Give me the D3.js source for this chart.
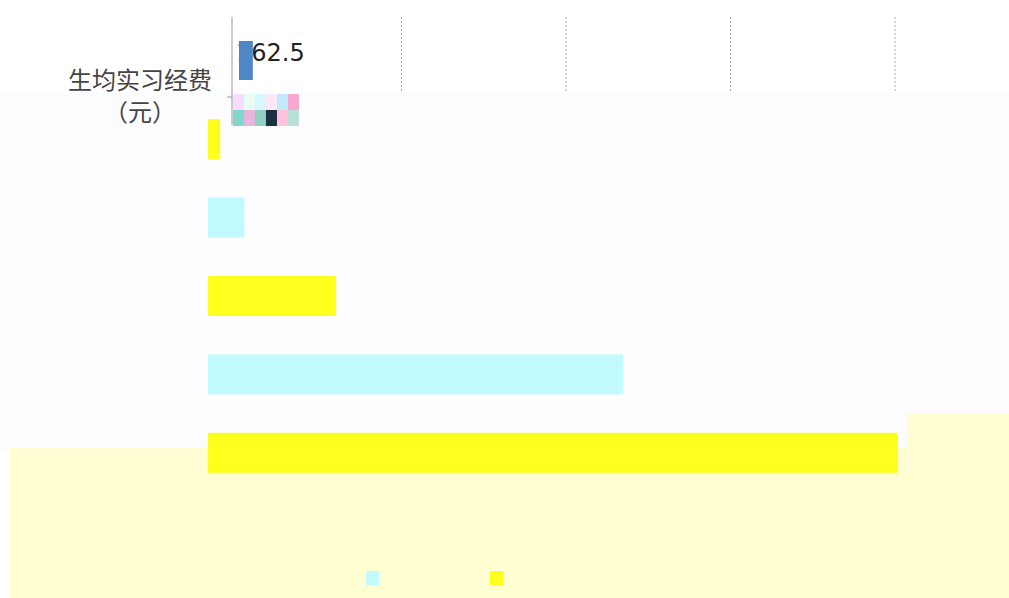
<!DOCTYPE html>
<html>

<head>
  <title>生均实习经费</title>
  <meta charset="utf-8">
  <script src="https://d3js.org/d3.v7.min.js"></script>
  <style>
    body {
      margin: 0;
      background: #fff;
    }

    .grid line {
      stroke: #aaa;
      stroke-dasharray: 2 2;
    }

    .ylabel {
      font-family: "Noto Sans CJK SC", sans-serif;
      font-size: 24px;
      fill: #444;
    }

    .value {
      font-family: "DejaVu Sans", sans-serif;
      font-size: 24px;
      fill: #222;
    }
  </style>
</head>

<body>
  <svg width="1009" height="598"></svg>
  <script>

    // top chart
    const topCategories = ["生均实习经费"]
    const topValues = [162.5]
    const topTicks = [0, 1500, 3000, 4500, 6000]

    // lower bars
    const lowCategories = ["a", "b", "c", "d", "e"]
    const lowValues = [110, 330, 1160, 3760, 6250]
    const lowSeries = ["s1", "s2", "s1", "s2", "s1"]
    const seriesNames = ["s2", "s1"]
    const seriesColors = ["#c2fbff", "#ffff1e"]

    const svg = d3.select("svg")
    const color = d3.scaleOrdinal().domain(seriesNames).range(seriesColors)

    // backgrounds
    svg.append("rect").attr("x", 0).attr("y", 92).attr("width", 1009).attr("height", 360).attr("fill", "#fdfdff")
    svg.append("rect").attr("x", 10).attr("y", 447).attr("width", 999).attr("height", 151).attr("fill", "#fffdd2")
    svg.append("rect").attr("x", 907).attr("y", 413).attr("width", 102).attr("height", 40).attr("fill", "#fffdd2")

    // top chart
    const x = d3.scaleLinear().domain([0, 6000]).range([237, 895])

    svg.append("g")
      .attr("class", "grid")
      .selectAll("line")
      .data(topTicks.slice(1))
      .enter().append("line")
      .attr("x1", d => x(d)).attr("x2", d => x(d))
      .attr("y1", 17).attr("y2", 92)

    svg.append("line")
      .attr("x1", 232).attr("x2", 232).attr("y1", 17).attr("y2", 125)
      .attr("stroke", "#999")
    svg.append("line")
      .attr("x1", 227).attr("x2", 232).attr("y1", 97).attr("y2", 97)
      .attr("stroke", "#999")

    svg.append("g")
      .selectAll("text")
      .data(topValues)
      .enter().append("text")
      .attr("class", "value")
      .attr("x", 236)
      .attr("y", 53)
      .attr("dy", "0.35em")
      .text(d => d.toFixed(1))

    // bar drawn over the start of its label, as in the picture
    svg.append("g")
      .selectAll("rect")
      .data(topValues)
      .enter().append("rect")
      .attr("x", x(0) + 2)
      .attr("y", 41)
      .attr("width", d => x(d) - x(0) - 4)
      .attr("height", 39)
      .attr("fill", "#4f86c6")

    svg.append("text").attr("class", "ylabel")
      .attr("x", 140).attr("y", 89).attr("text-anchor", "middle")
      .text(topCategories[0])
    svg.append("text").attr("class", "ylabel")
      .attr("x", 140).attr("y", 121).attr("text-anchor", "middle")
      .text("（元）")

    // glitch mosaic under the axis
    const mosaicColors = ["#f6ddff", "#e6fff0", "#d8f6ff", "#ffe8f4", "#bfe9ff", "#f7a8d0", "#7fd9c8", "#e7b6e0", "#8fd0c0", "#1c3040", "#ffc4dc", "#b8e0d8"]
    svg.append("g")
      .selectAll("rect")
      .data(mosaicColors)
      .enter().append("rect")
      .attr("x", (d, i) => 233 + (i % 6) * 11)
      .attr("y", (d, i) => 94 + Math.floor(i / 6) * 16)
      .attr("width", 11).attr("height", 16)
      .attr("fill", d => d)

    // lower bars
    const lx = d3.scaleLinear().domain([0, 6250]).range([208, 898])
    const ly = d3.scaleBand().domain(lowCategories).range([100, 492]).paddingInner(0.49).paddingOuter(0.245)

    svg.append("g")
      .selectAll("rect")
      .data(lowValues)
      .enter().append("rect")
      .attr("x", lx(0))
      .attr("y", (d, i) => ly(lowCategories[i]))
      .attr("width", d => lx(d) - lx(0))
      .attr("height", ly.bandwidth())
      .attr("fill", (d, i) => color(lowSeries[i]))

    // legend
    svg.append("g")
      .selectAll("rect")
      .data(seriesNames)
      .enter().append("rect")
      .attr("x", (d, i) => 366 + i * 124)
      .attr("y", 571)
      .attr("width", 13).attr("height", 14)
      .attr("fill", d => color(d))

  </script>
</body>

</html>
